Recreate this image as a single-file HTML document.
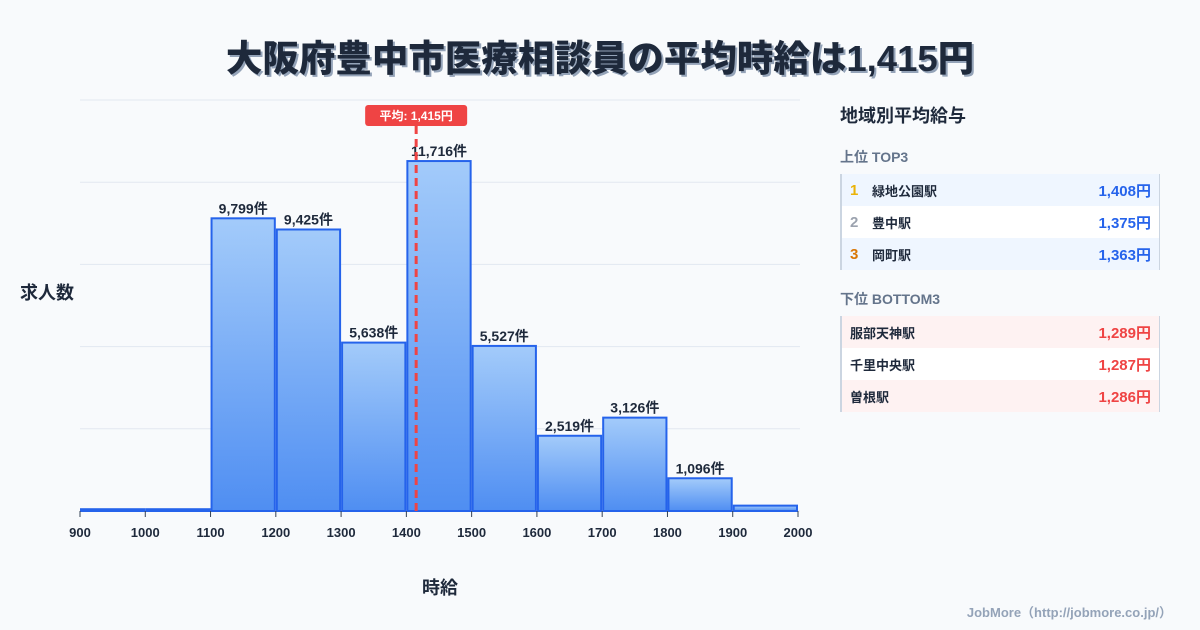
<!DOCTYPE html>
<html><head><meta charset="utf-8">
<style>
body{margin:0;width:1200px;height:630px;background:#f8fafc;font-family:"Liberation Sans","Noto Sans CJK JP",sans-serif;overflow:hidden;position:relative}
.t{position:absolute;left:0;width:1200px;top:29px;text-align:center;font-size:36.5px;font-weight:900;color:#1e293b;text-shadow:2px 2px 0 #94a3b8}
.side{position:absolute;left:840px;top:100px;width:320px}
.h{font-size:18px;font-weight:700;color:#1e293b;height:44px;line-height:32px}
.sh{font-size:14px;font-weight:700;color:#64748b;height:30px;line-height:26px}
.box{border-left:2px solid #cbd5e1;border-right:1px solid #cbd5e1;margin-bottom:16px}
.r{height:32px;display:flex;align-items:center;font-size:13px;font-weight:700;color:#1e293b;padding:0 8px}
.r .n{width:22px;font-size:15px}
.r .v{margin-left:auto;font-size:15px}
.b{background:#eff6ff}.w{background:#fff}.p{background:#fef2f2}
.blue{color:#2563eb}.red{color:#ef4444}
</style></head><body>
<div class="t">大阪府豊中市医療相談員の平均時給は1,415円</div>
<svg id="c" width="830" height="630" style="position:absolute;left:0;top:0">
<defs><linearGradient id="g" x1="0" y1="0" x2="0" y2="1"><stop offset="0" stop-color="#a3cbfa"/><stop offset="1" stop-color="#4f8ef2"/></linearGradient></defs>
</svg>
<div class="side">
<div class="h">地域別平均給与</div>
<div class="sh">上位 TOP3</div>
<div class="box">
<div class="r b"><span class="n" style="color:#eab308">1</span>緑地公園駅<span class="v blue">1,408円</span></div>
<div class="r w"><span class="n" style="color:#9ca3af">2</span>豊中駅<span class="v blue">1,375円</span></div>
<div class="r b"><span class="n" style="color:#d97706">3</span>岡町駅<span class="v blue">1,363円</span></div>
</div>
<div class="sh">下位 BOTTOM3</div>
<div class="box">
<div class="r p">服部天神駅<span class="v red">1,289円</span></div>
<div class="r w">千里中央駅<span class="v red">1,287円</span></div>
<div class="r p">曽根駅<span class="v red">1,286円</span></div>
</div>
</div>
<div style="position:absolute;right:28px;top:602px;font-size:13px;font-weight:700;color:#94a3b8">JobMore（http://jobmore.co.jp/）</div>
<script>
const binStarts=[900,1000,1100,1200,1300,1400,1500,1600,1700,1800,1900];
const counts=[60,60,9799,9425,5638,11716,5527,2519,3126,1096,180];
const showLabel=[false,false,true,true,true,true,true,true,true,true,false];
const xTicks=[900,1000,1100,1200,1300,1400,1500,1600,1700,1800,1900,2000];
const avg=1415;
const yMax=13760;
const NS="http://www.w3.org/2000/svg";
const svg=document.getElementById('c');
const X=v=>80+(v-900)/1100*718;
const Y=v=>511-v/yMax*411;
function el(t,a){const e=document.createElementNS(NS,t);for(const k in a)e.setAttribute(k,a[k]);svg.appendChild(e);return e;}
for(let i=0;i<=5;i++){const g=el('line',{x1:80,x2:800,y1:Y(yMax*i/5),y2:Y(yMax*i/5),stroke:'#e2e8f0','stroke-width':1});

}
binStarts.forEach((b,i)=>{const x0=X(b)+1,x1=X(b+100)-1,y=Y(counts[i]);
const r=el('rect',{x:x0,y:y,width:x1-x0,height:511-y,fill:'url(#g)',stroke:'#2563eb','stroke-width':2});


if(showLabel[i]){const t=el('text',{x:(x0+x1)/2,y:y-5,'text-anchor':'middle','font-size':14,'font-weight':700,fill:'#1e293b'});t.textContent=counts[i].toLocaleString('en-US')+'件';

}});
xTicks.forEach(v=>{el('line',{x1:X(v),x2:X(v),y1:511,y2:517,stroke:'#334155'});
const t=el('text',{x:X(v),y:537,'text-anchor':'middle','font-size':13,'font-weight':700,fill:'#1e293b'});t.textContent=v;

});
const ax=X(avg);
const l=el('line',{x1:ax,x2:ax,y1:126,y2:511,stroke:'#ef4444','stroke-width':3,'stroke-dasharray':'8,5'});


const bx=el('rect',{x:ax-51,y:105,width:102,height:21,rx:3,fill:'#ef4444'});


const bt=el('text',{x:ax,y:120,'text-anchor':'middle','font-size':12,'font-weight':700,fill:'#fff'});bt.textContent='平均: '+avg.toLocaleString('en-US')+'円';


const yt=el('text',{x:20,y:299,'font-size':18,'font-weight':700,fill:'#1e293b'});yt.textContent='求人数';


const xt=el('text',{x:440,y:594,'text-anchor':'middle','font-size':18,'font-weight':700,fill:'#1e293b'});xt.textContent='時給';


</script>
</body></html>
